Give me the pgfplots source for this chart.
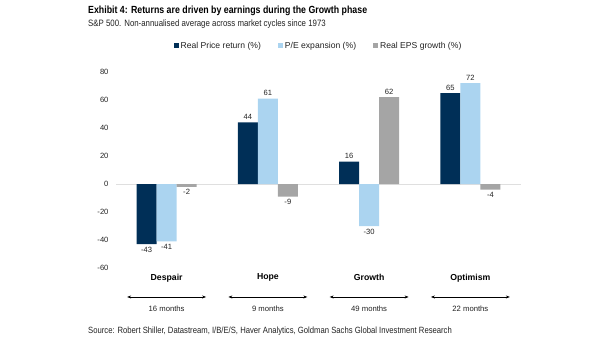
\documentclass[border=0pt]{standalone}
\usepackage{pgfplots}
\pgfplotsset{compat=1.18}
\usepackage{fontspec}
\setmainfont{Liberation Sans}
\newfontfamily\condfont{Liberation Sans}[FakeStretch=0.85]
\usetikzlibrary{arrows.meta}
\definecolor{navy}{HTML}{002F57}
\definecolor{lblue}{HTML}{ABD4F0}
\definecolor{mgray}{HTML}{A5A5A5}
\definecolor{txt}{HTML}{222222}
\begin{document}
\begin{tikzpicture}[x=1pt,y=1pt]
\path[use as bounding box] (0,0) rectangle (605,341);
\node[anchor=west,inner sep=0pt,font=\condfont\fontsize{10.35}{12}\selectfont\bfseries] at (88,330) {Exhibit 4: Returns are driven by earnings during the Growth phase};
\node[anchor=west,inner sep=0pt,font=\condfont\fontsize{9.25}{11}\selectfont,text=txt] at (88,316.5) {S\&P 500. Non-annualised average across market cycles since 1973};
\node[anchor=west,inner sep=0pt,font=\condfont\fontsize{9.05}{11}\selectfont,text=txt] at (88,10) {Source: Robert Shiller, Datastream, I/B/E/S, Haver Analytics, Goldman Sachs Global Investment Research};
\begin{axis}[
  at={(116pt,73pt)}, anchor=south west,
  scale only axis, width=405pt, height=196pt,
  xmin=-0.5, xmax=3.5, ymin=-60, ymax=80,
  enlargelimits=false, clip=false,
  axis line style={draw=none}, tick style={draw=none},
  xtick=\empty,
  ytick={-60,-40,-20,0,20,40,60,80},
  yticklabels={-60,-40,-20,0,20,40,60,80},
  yticklabel style={font=\fontsize{7.6}{9}\selectfont, text=txt, anchor=east, xshift=-4pt},
  ybar=0pt, bar width=20pt,
  nodes near coords={\pgfmathprintnumber[assume math mode=true]{\pgfplotspointmeta}},
  nodes near coords align={vertical},
  every node near coord/.append style={font=\fontsize{7.6}{9}\selectfont, text=txt, inner sep=2.5pt},
  legend columns=3,
  legend style={at={(0.5,1.133)}, anchor=center, draw=none, fill=none,
    font=\fontsize{8.6}{10}\selectfont, text=txt,
    /tikz/every even column/.append style={column sep=15pt}},
  legend image code/.code={\fill[#1] (0pt,-2.5pt) rectangle (5pt,2.5pt);},
]
\draw[gray!25, line width=0.8pt] (axis cs:-0.5,0) -- (axis cs:3.5,0);
\addplot[fill=navy, draw=none] coordinates {(0,-43) (1,44) (2,16) (3,65)};
\addplot[fill=lblue, draw=none] coordinates {(0,-41) (1,61) (2,-30) (3,72)};
\addplot[fill=mgray, draw=none] coordinates {(0,-2) (1,-9) (2,62) (3,-4)};
\legend{Real Price return (\%), P/E expansion (\%), Real EPS growth (\%)}
\foreach \i/\lab/\m in {0/Despair/16, 1/Hope/9, 2/Growth/49, 3/Optimism/22} {
  \edef\tmp{\noexpand\node[font=\noexpand\fontsize{8.7}{10}\noexpand\selectfont\noexpand\bfseries] at (axis cs:\i,-67) {\lab};
  \noexpand\draw[{Stealth[length=4pt,width=3pt]}-{Stealth[length=4pt,width=3pt]}, line width=0.6pt] (axis cs:\i-0.39,-80.7) -- (axis cs:\i+0.39,-80.7);
  \noexpand\node[font=\noexpand\fontsize{7.7}{10}\noexpand\selectfont, text=txt] at (axis cs:\i,-89.3) {\m\space months};}
  \tmp
}
\end{axis}
\end{tikzpicture}
\end{document}
